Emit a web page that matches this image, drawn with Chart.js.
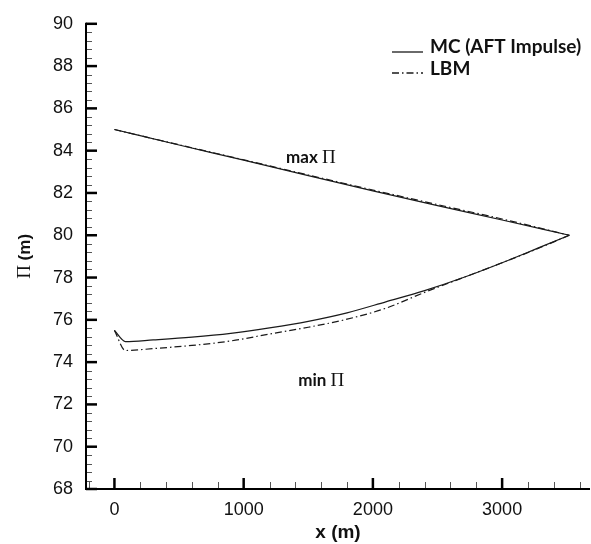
<!DOCTYPE html>
<html>
<head>
<meta charset="utf-8">
<script src="https://cdn.jsdelivr.net/npm/chart.js@4.4.1/dist/chart.umd.min.js"></script>
<style>
  body { margin: 0; background: #fff; }
  #wrap { width: 591px; height: 544px; }
</style>
</head>
<body>
<div id="wrap"><canvas id="piChart" width="591" height="544"></canvas></div>
<script>
// upper branch (max Pi)
const maxX = [0, 500, 1000, 1500, 2000, 2500, 3000, 3520]
const maxMC = [85.0, 84.27, 83.55, 82.82, 82.1, 81.4, 80.72, 80.0]
const maxLBM = [85.0, 84.28, 83.57, 82.85, 82.14, 81.45, 80.77, 80.0]

// lower branch (min Pi)
const minX = [0, 85, 300, 600, 900, 1200, 1500, 1800, 2100, 2400, 2700, 3000, 3300, 3520]
const minMC = [75.5, 74.97, 75.05, 75.18, 75.36, 75.62, 75.93, 76.33, 76.85, 77.38, 78.0, 78.7, 79.45, 80.0]
const minLBM = [75.5, 74.55, 74.64, 74.79, 75.0, 75.33, 75.65, 76.03, 76.55, 77.3, 78.0, 78.7, 79.43, 80.0]

const seriesNames = ['MC (AFT Impulse)', 'LBM']
const xTicks = [0, 1000, 2000, 3000]
const yTicks = [68, 70, 72, 74, 76, 78, 80, 82, 84, 86, 88, 90]

const lineColor = '#1a1a1a'
const dashDot = [7, 3, 1.5, 3]

function pts(xs, ys) {
  return xs.map((v, i) => ({ x: v, y: ys[i] }))
}

function ds(label, data, dash) {
  return {
    label: label,
    data: data,
    borderColor: lineColor,
    borderWidth: 1.2,
    borderDash: dash,
    pointRadius: 0,
    fill: false,
    cubicInterpolationMode: 'monotone'
  }
}

//inward ticks, axes, titles, legend and labels
const decor = {
  id: 'decor',
  afterDraw(chart) {
    const { ctx, chartArea: a, scales: { x, y } } = chart
    const seg = (x1, y1, x2, y2) => {
      ctx.beginPath(); ctx.moveTo(x1, y1); ctx.lineTo(x2, y2); ctx.stroke()
    }
    ctx.save()
    ctx.setLineDash([])

    // minor ticks
    ctx.strokeStyle = '#555'
    ctx.lineWidth = 1
    for (let v = -200; v <= 3600; v += 200) {
      if (v % 1000 === 0) continue
      const px = Math.round(x.getPixelForValue(v)) + 0.5
      seg(px, a.bottom, px, a.bottom - 7)
    }
    for (let i = 1; i < 55; i++) {
      if (i % 5 === 0) continue
      const py = Math.round(y.getPixelForValue(68 + i * 0.4)) + 0.5
      seg(a.left, py, a.left + 6, py)
    }

    // major ticks
    ctx.strokeStyle = '#000'
    ctx.lineWidth = 2.5
    xTicks.forEach(v => {
      const px = x.getPixelForValue(v)
      seg(px, a.bottom, px, a.bottom - 11)
    })
    yTicks.forEach(v => {
      const py = y.getPixelForValue(v)
      seg(a.left, py, a.left + 11, py)
    })

    // axis lines
    ctx.lineWidth = 2
    seg(a.left, a.top - 1, a.left, a.bottom + 1)
    seg(a.left - 1, a.bottom, a.right, a.bottom)

    // y title: serif Pi + bold (m)
    ctx.fillStyle = '#111'
    ctx.textBaseline = 'middle'
    ctx.translate(25, (a.top + a.bottom) / 2)
    ctx.rotate(-Math.PI / 2)
    const piFont = '19px "Liberation Serif"'
    const mFont = 'bold 17px "Liberation Sans"'
    ctx.font = piFont
    const w1 = ctx.measureText('\u03A0 ').width
    ctx.font = mFont
    const w2 = ctx.measureText('(m)').width
    let sx = -(w1 + w2) / 2
    ctx.font = piFont
    ctx.textAlign = 'left'
    ctx.fillText('\u03A0 ', sx, 0)
    ctx.font = mFont
    ctx.fillText('(m)', sx + w1, 0)
    ctx.setTransform(1, 0, 0, 1, 0, 0)

    // branch labels
    const tag = (word, cx, cy) => {
      ctx.font = 'bold 17px Lato'
      const a1 = ctx.measureText(word + ' ').width
      ctx.font = '19px "Liberation Serif"'
      const a2 = ctx.measureText('\u03A0').width
      let lx = cx - (a1 + a2) / 2
      ctx.textAlign = 'left'
      ctx.textBaseline = 'middle'
      ctx.font = 'bold 17px Lato'
      ctx.fillText(word + ' ', lx, cy)
      ctx.font = '19px "Liberation Serif"'
      ctx.fillText('\u03A0', lx + a1, cy)
    }
    tag('max', x.getPixelForValue(1520), y.getPixelForValue(83.66))
    tag('min', x.getPixelForValue(1600), y.getPixelForValue(73.12))

    // legend
    const rows = [
      { name: seriesNames[0], dash: [], ly: 52, ty: 47 },
      { name: seriesNames[1], dash: dashDot, ly: 73, ty: 69 }
    ]
    rows.forEach(r => {
      ctx.strokeStyle = lineColor
      ctx.lineWidth = 1.3
      ctx.setLineDash(r.dash)
      seg(392, r.ly, 423, r.ly)
      ctx.setLineDash([])
      ctx.font = 'bold 19px Lato'
      ctx.textAlign = 'left'
      ctx.textBaseline = 'middle'
      ctx.fillText(r.name, 430, r.ty)
    })
    ctx.restore()
  }
}

const chartEl = document.getElementById('piChart')
new Chart(chartEl, {
  type: 'line',
  data: {
    datasets: [
      ds(seriesNames[0], pts(maxX, maxMC), []),
      ds(seriesNames[1], pts(maxX, maxLBM), dashDot),
      ds(seriesNames[0], pts(minX, minMC), []),
      ds(seriesNames[1], pts(minX, minLBM), dashDot)
    ]
  },
  options: {
    responsive: false,
    animation: false,
    layout: { padding: { top: 20, right: 1, left: 0, bottom: 0 } },
    plugins: { legend: { display: false }, tooltip: { enabled: false } },
    scales: {
      x: {
        type: 'linear',
        min: -220,
        max: 3680,
        afterBuildTicks: s => { s.ticks = xTicks.map(v => ({ value: v })) },
        afterFit: s => { s.height = 55 },
        grid: { display: false, drawTicks: false },
        border: { display: false },
        ticks: {
          color: '#111',
          padding: 10,
          maxRotation: 0,
          callback: v => String(v),
          font: { family: '"Liberation Sans"', size: 18 }
        },
        title: {
          display: true,
          text: 'x (m)',
          color: '#111',
          padding: 0,
          font: { family: '"Liberation Sans"', size: 19, weight: 'bold' }
        }
      },
      y: {
        type: 'linear',
        min: 68,
        max: 90,
        afterBuildTicks: s => { s.ticks = yTicks.map(v => ({ value: v })) },
        afterFit: s => { s.width = 86 },
        grid: { display: false, drawTicks: false },
        border: { display: false },
        ticks: {
          color: '#111',
          padding: 13,
          callback: v => String(v),
          font: { family: '"Liberation Sans"', size: 18 }
        }
      }
    }
  },
  plugins: [decor]
})
</script>
</body>
</html>
